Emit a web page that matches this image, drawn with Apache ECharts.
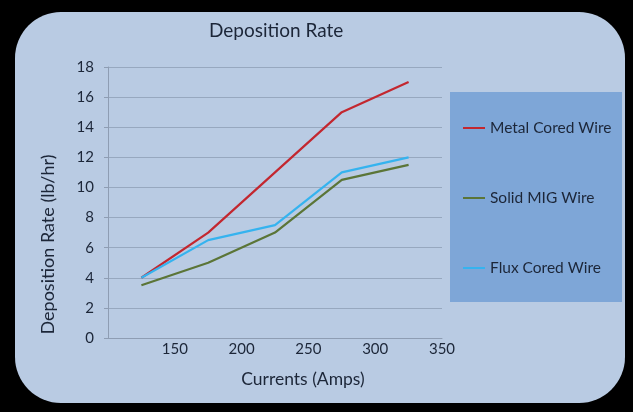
<!DOCTYPE html>
<html>
<head>
<meta charset="utf-8">
<script src="https://cdn.jsdelivr.net/npm/echarts@6/dist/echarts.min.js"></script>
<style>
  html, body { margin: 0; padding: 0; background: #000; }
  #wrap { position: relative; width: 633px; height: 412px; background: #000; overflow: hidden; }
  #panel { position: absolute; left: 15px; top: 12px; width: 610px; height: 391px; background: #b9cbe3; border-radius: 46px; }
  #chart { position: absolute; left: 0; top: 0; width: 633px; height: 412px; }
</style>
</head>
<body>
<div id="wrap">
  <div id="panel"></div>
  <div id="chart"></div>
</div>
<script>
const currents = [125, 175, 225, 275, 325];
const metalCored = [4, 7, 11, 15, 17];
const solidMIG = [3.5, 5, 7, 10.5, 11.5];
const fluxCored = [4, 6.5, 7.5, 11, 12];
const seriesNames = ['Metal Cored Wire', 'Solid MIG Wire', 'Flux Cored Wire'];
const seriesColors = ['#c3272f', '#5b7537', '#35b3ef'];
const xTicks = [150, 200, 250, 300, 350];

const pair = (ys) => currents.map((x, i) => [x, ys[i]]);
const font = 'Lato, "Open Sans", sans-serif';
const textColor = '#1c2638';

const chart = echarts.init(document.getElementById('chart'), null, { renderer: 'canvas' });
chart.setOption({
  backgroundColor: 'transparent',
  animation: false,
  title: {
    text: 'Deposition Rate',
    left: 209, top: 21, padding: 0,
    textStyle: { fontFamily: font, fontSize: 19, fontWeight: 'normal', color: textColor }
  },
  graphic: [{
    type: 'rect', left: 450, top: 92, z: 0,
    shape: { width: 172, height: 210 },
    style: { fill: '#7ea6d7' }
  }],
  legend: {
    orient: 'vertical',
    left: 463, top: 120, padding: 0,
    itemGap: 54,
    itemWidth: 22, itemHeight: 2,
    icon: 'rect',
    textStyle: { fontFamily: font, fontSize: 15.5, color: textColor },
    data: seriesNames
  },
  grid: { left: 108, right: 191, top: 67, bottom: 74 },
  xAxis: {
    type: 'value', min: 100, max: 350, interval: 50,
    name: 'Currents (Amps)', nameLocation: 'middle', nameGap: 32,
    nameTextStyle: { fontFamily: font, fontSize: 17.5, color: textColor, padding: [0, 0, 0, 56] },
    axisLine: { show: true, lineStyle: { color: '#8e9db3', width: 1 } },
    axisTick: { show: false },
    splitLine: { show: false },
    axisLabel: {
      fontFamily: font, fontSize: 15, color: textColor, margin: 4,
      formatter: (v) => xTicks.includes(v) ? (v === 350 ? '{r|350}' : String(v)) : '',
      rich: { r: { fontFamily: font, fontSize: 15, color: textColor, padding: [0, 0, 6, 0] } }
    }
  },
  yAxis: {
    type: 'value', min: 0, max: 18, interval: 2,
    name: 'Deposition Rate (lb/hr)', nameLocation: 'middle', nameGap: 51,
    nameTextStyle: { fontFamily: font, fontSize: 18, color: textColor, padding: [0, 84, 0, 0] },
    axisLine: { show: true, lineStyle: { color: '#8e9db3', width: 1 } },
    axisTick: { show: true, length: 4, lineStyle: { color: '#8e9db3' } },
    splitLine: { show: true, lineStyle: { color: '#97a8bf', width: 1 } },
    axisLabel: { fontFamily: font, fontSize: 15, color: textColor, margin: 14 }
  },
  series: [
    { name: seriesNames[0], type: 'line', data: pair(metalCored), symbol: 'none', lineStyle: { width: 2.2, color: seriesColors[0] }, itemStyle: { color: seriesColors[0] }, z: 3 },
    { name: seriesNames[1], type: 'line', data: pair(solidMIG), symbol: 'none', lineStyle: { width: 2.2, color: seriesColors[1] }, itemStyle: { color: seriesColors[1] }, z: 3 },
    { name: seriesNames[2], type: 'line', data: pair(fluxCored), symbol: 'none', lineStyle: { width: 2.2, color: seriesColors[2] }, itemStyle: { color: seriesColors[2] }, z: 3 }
  ]
});
</script>
</body>
</html>
